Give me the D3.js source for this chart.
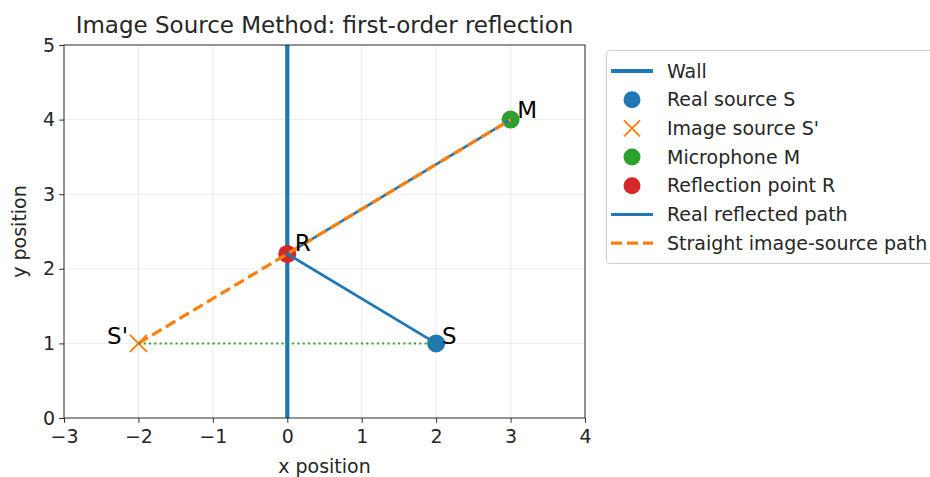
<!DOCTYPE html>
<html><head><meta charset="utf-8">
<script src="https://cdn.jsdelivr.net/npm/d3@7"></script>
<style>body{margin:0;background:#fff;} text{font-family:"DejaVu Sans",sans-serif;fill:#262626;}</style>
</head><body><svg id="c" width="930" height="477"></svg>
<script>
const xTicks = [-3,-2,-1,0,1,2,3,4];
const yTicks = [0,1,2,3,4,5];
const source = {x:2, y:1};
const image = {x:-2, y:1};
const mic = {x:3, y:4};
const reflection = {x:0, y:2.2};
const wallX = 0;
const pointLabels = [
  {t:"S", x:2.08, y:1.0, anchor:"start"},
  {t:"S'", x:-2.14, y:1.0, anchor:"end"},
  {t:"M", x:3.09, y:4.03, anchor:"start"},
  {t:"R", x:0.1, y:2.25, anchor:"start"}
];
const legendItems = ["Wall","Real source S","Image source S'","Microphone M","Reflection point R","Real reflected path","Straight image-source path"];
const C = {blue:"#1f77b4", orange:"#ff7f0e", green:"#2ca02c", red:"#d62728"};

const svg = d3.select("#c");
const L=64,R=585,T=45,B=418;
const FS=19, TFS=23;
const x = d3.scaleLinear().domain([-3,4]).range([L,R]);
const y = d3.scaleLinear().domain([0,5]).range([B,T]);
const g = svg.append("g");
g.selectAll(".gx").data(xTicks).enter().append("line").attr("x1",d=>x(d)).attr("x2",d=>x(d)).attr("y1",T).attr("y2",B).attr("stroke","#b0b0b0").attr("stroke-opacity",0.3).attr("stroke-width",0.8);
g.selectAll(".gy").data(yTicks).enter().append("line").attr("y1",d=>y(d)).attr("y2",d=>y(d)).attr("x1",L).attr("x2",R).attr("stroke","#b0b0b0").attr("stroke-opacity",0.3).attr("stroke-width",0.8);

svg.append("clipPath").attr("id","pc").append("rect").attr("x",L).attr("y",T).attr("width",R-L).attr("height",B-T);
const pg = svg.append("g").attr("clip-path","url(#pc)");
pg.append("line").attr("x1",x(wallX)).attr("x2",x(wallX)).attr("y1",y(0)).attr("y2",y(5)).attr("stroke",C.blue).attr("stroke-width",4.2);
const circ=(p,c)=>pg.append("circle").attr("cx",x(p.x)).attr("cy",y(p.y)).attr("r",9).attr("fill",c);
circ(source,C.blue);
const cross=(gg,cx,cy,s)=>{gg.append("path").attr("d",`M${cx-s},${cy-s}L${cx+s},${cy+s}M${cx-s},${cy+s}L${cx+s},${cy-s}`).attr("stroke",C.orange).attr("stroke-width",2).attr("fill","none");};
cross(pg,x(image.x),y(image.y),8.5);
circ(mic,C.green);
circ(reflection,C.red);
const line=d3.line().x(d=>x(d.x)).y(d=>y(d.y));
pg.append("path").attr("d",line([source,reflection,mic])).attr("stroke",C.blue).attr("stroke-width",2.8).attr("fill","none");
pg.append("path").attr("d",line([image,mic])).attr("stroke",C.orange).attr("stroke-width",3.2).attr("stroke-dasharray","11,5").attr("fill","none");
pg.append("path").attr("d",line([image,source])).attr("stroke",C.green).attr("stroke-width",2).attr("stroke-dasharray","2,3.3").attr("fill","none");
svg.selectAll(".pl").data(pointLabels).enter().append("text").attr("x",d=>x(d.x)).attr("y",d=>y(d.y)+1).attr("text-anchor",d=>d.anchor).attr("font-size",23).text(d=>d.t).style("fill","#000");

const xa = svg.append("g").attr("transform",`translate(0,${B})`).call(d3.axisBottom(x).tickValues(xTicks).tickSize(4.9).tickPadding(6.5).tickFormat(d=>d<0?"\u2212"+Math.abs(d):d));
const ya = svg.append("g").attr("transform",`translate(${L},0)`).call(d3.axisLeft(y).tickValues(yTicks).tickSize(4.9).tickPadding(4).tickFormat(d3.format("d")));
[xa,ya].forEach(a=>{a.select(".domain").remove();a.selectAll("text").attr("font-size",FS).attr("font-family","DejaVu Sans").style("fill","#262626");a.selectAll("line").attr("stroke","#000").attr("stroke-width",0.8);});
svg.append("rect").attr("x",L).attr("y",T).attr("width",R-L).attr("height",B-T).attr("fill","none").attr("stroke","#000").attr("stroke-width",0.8);

svg.append("text").attr("x",(L+R)/2).attr("y",33).attr("text-anchor","middle").attr("font-size",TFS).text("Image Source Method: first-order reflection");
svg.append("text").attr("x",(L+R)/2).attr("y",473).attr("text-anchor","middle").attr("font-size",FS).text("x position");
svg.append("text").attr("transform",`translate(26,${(T+B)/2}) rotate(-90)`).attr("text-anchor","middle").attr("font-size",FS).text("y position");

const lg = svg.append("g");
lg.append("rect").attr("x",606.5).attr("y",50.5).attr("width",340).attr("height",213).attr("rx",3).attr("fill","#fff").attr("stroke","#d0d0d0").attr("stroke-width",1);
const rowY=i=>71+i*28.7;
legendItems.forEach((t,i)=>{
  const yy=rowY(i);
  if(i===0) lg.append("line").attr("x1",611).attr("x2",653).attr("y1",yy).attr("y2",yy).attr("stroke",C.blue).attr("stroke-width",4.2);
  if(i===1) lg.append("circle").attr("cx",632).attr("cy",yy).attr("r",8.5).attr("fill",C.blue);
  if(i===2) cross(lg,632,yy,8);
  if(i===3) lg.append("circle").attr("cx",632).attr("cy",yy).attr("r",8.5).attr("fill",C.green);
  if(i===4) lg.append("circle").attr("cx",632).attr("cy",yy).attr("r",8.5).attr("fill",C.red);
  if(i===5) lg.append("line").attr("x1",611).attr("x2",653).attr("y1",yy).attr("y2",yy).attr("stroke",C.blue).attr("stroke-width",2.8);
  if(i===6) lg.append("line").attr("x1",611).attr("x2",653).attr("y1",yy).attr("y2",yy).attr("stroke",C.orange).attr("stroke-width",3.2).attr("stroke-dasharray","11,5");
  lg.append("text").attr("x",667).attr("y",yy+6.5).attr("font-size",FS).text(t);
});
</script></body></html>
